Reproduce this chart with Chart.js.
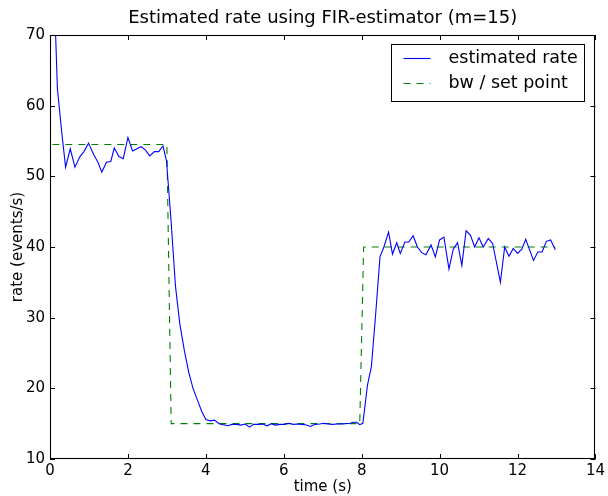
<!DOCTYPE html>
<html>
<head>
<meta charset="utf-8">
<script src="https://cdn.jsdelivr.net/npm/chart.js@4.4.1/dist/chart.umd.min.js"></script>
<style>
  html, body { margin: 0; padding: 0; background: #ffffff; }
  #wrap { width: 608px; height: 496px; }
</style>
</head>
<body>
<div id="wrap"><canvas id="c" width="608" height="496"></canvas></div>
<script>
// ---- data ----
const chartTitle = "Estimated rate using FIR-estimator (m=15)";
const xAxisLabel = "time (s)";
const yAxisLabel = "rate (events/s)";
const seriesNames = ["estimated rate", "bw / set point"];

const rateTime = [
  0.06, 0.19, 0.30, 0.40, 0.52, 0.64, 0.77, 0.87, 0.99, 1.12,
  1.23, 1.33, 1.45, 1.56, 1.65, 1.77, 1.88, 2.00, 2.12, 2.23,
  2.34, 2.45, 2.56, 2.68, 2.79, 2.90, 2.99, 3.11, 3.22, 3.33,
  3.45, 3.56, 3.67, 3.78, 3.89, 4.00, 4.11, 4.22, 4.34, 4.45,
  4.56, 4.67, 4.79, 4.90, 5.01, 5.12, 5.23, 5.35, 5.46, 5.57,
  5.68, 5.79, 5.91, 6.02, 6.13, 6.24, 6.36, 6.47, 6.58, 6.69,
  6.80, 6.92, 7.03, 7.14, 7.25, 7.37, 7.48, 7.59, 7.70, 7.79,
  7.87, 7.95, 8.03, 8.15, 8.25, 8.36, 8.47, 8.57, 8.69, 8.79,
  8.90, 8.99, 9.11, 9.21, 9.32, 9.43, 9.54, 9.65, 9.78, 9.89,
  10.00, 10.11, 10.24, 10.35, 10.46, 10.57, 10.68, 10.79, 10.90, 11.01,
  11.12, 11.25, 11.36, 11.46, 11.56, 11.67, 11.78, 11.89, 12.00, 12.11,
  12.21, 12.31, 12.41, 12.52, 12.63, 12.74, 12.85, 12.97
];
const rateValue = [
  84.0, 62.4, 56.3, 51.3, 53.9, 51.3, 52.8, 53.5, 54.7, 53.1,
  52.0, 50.6, 52.0, 52.1, 54.0, 52.8, 52.5, 55.5, 53.6, 53.9,
  54.2, 53.7, 52.9, 53.5, 53.5, 54.3, 52.2, 43.5, 34.5, 29.2,
  25.3, 22.3, 20.0, 18.4, 16.8, 15.6, 15.4, 15.5, 15.0, 14.85,
  14.7, 14.9, 14.9, 14.8, 14.95, 14.5, 14.9, 14.9, 14.95, 14.7,
  15.0, 14.8, 14.9, 14.9, 15.05, 14.9, 14.95, 14.9, 14.8, 14.6,
  14.9, 14.95, 15.05, 14.95, 14.9, 14.95, 14.95, 15.0, 15.05, 15.2,
  15.2, 14.85, 15.05, 20.5, 23.1, 30.6, 38.6, 40.0, 42.1, 39.0,
  40.6, 39.1, 40.7, 40.7, 41.6, 40.0, 39.2, 38.9, 40.3, 38.6,
  41.0, 41.4, 36.9, 39.7, 40.6, 37.4, 42.3, 41.7, 40.0, 41.3,
  40.0, 41.2, 40.5, 37.8, 35.0, 40.0, 38.7, 39.8, 39.1, 39.7,
  41.1, 39.6, 38.1, 39.3, 39.3, 40.8, 41.0, 39.6
];
const setTime  = [0.06, 3.00, 3.11, 7.95, 8.05, 12.97];
const setValue = [54.5, 54.5, 15.0, 15.0, 40.0, 40.0];

const xMin = 0, xMax = 14, xStep = 2;
const yMin = 10, yMax = 70, yStep = 10;

// ---- styles ----
const FONT = "'DejaVu Sans', 'Liberation Sans', sans-serif";
const blue = '#0000ff';
const green = '#008000';
const dashPattern = [7, 6];

const toPoints = (xs, ys) => xs.map((t, i) => ({ x: t, y: ys[i] }));

const decorPlugin = {
  id: 'decor',
  afterDatasetsDraw(chart) {
    const { ctx, chartArea: a, scales } = chart;
    const xs = scales.x, ys = scales.y;
    ctx.save();
    // inward ticks on all four sides
    const L = 5;
    ctx.strokeStyle = '#000';
    ctx.lineWidth = 1;
    ctx.beginPath();
    xs.ticks.forEach(t => {
      const px = Math.round(xs.getPixelForValue(t.value)) + 0.5;
      ctx.moveTo(px, a.bottom); ctx.lineTo(px, a.bottom - L);
      ctx.moveTo(px, a.top); ctx.lineTo(px, a.top + L);
    });
    ys.ticks.forEach(t => {
      const py = Math.round(ys.getPixelForValue(t.value)) + 0.5;
      ctx.moveTo(a.left, py); ctx.lineTo(a.left + L, py);
      ctx.moveTo(a.right, py); ctx.lineTo(a.right - L, py);
    });
    ctx.stroke();
    // frame
    ctx.lineWidth = 1.1;
    ctx.strokeRect(Math.round(a.left) + 0.5, Math.round(a.top) + 0.5,
                   Math.round(a.right - a.left) - 1, Math.round(a.bottom - a.top) - 1);

    // legend box inside the plot (upper right)
    const bw = 193, bh = 57;
    const bx = Math.round(a.right - 11 - bw) + 0.5;
    const by = Math.round(a.top + 9) + 0.5;
    ctx.fillStyle = '#ffffff';
    ctx.fillRect(bx, by, bw, bh);
    ctx.strokeStyle = '#000';
    ctx.lineWidth = 1;
    ctx.strokeRect(bx, by, bw, bh);
    const rows = [by + 14, by + 39];
    chart.data.datasets.forEach((ds, i) => {
      ctx.strokeStyle = ds.borderColor;
      ctx.lineWidth = ds.borderWidth;
      ctx.setLineDash(ds.borderDash || []);
      ctx.beginPath();
      ctx.moveTo(bx + 12, rows[i]);
      ctx.lineTo(bx + 39, rows[i]);
      ctx.stroke();
      ctx.setLineDash([]);
      ctx.fillStyle = '#000';
      ctx.font = '17.5px ' + FONT;
      ctx.textBaseline = 'middle';
      ctx.textAlign = 'left';
      ctx.fillText(ds.label, bx + 57, rows[i]);
    });

    // title centred over the plot area
    ctx.fillStyle = '#000';
    ctx.font = '18px ' + FONT;
    ctx.textAlign = 'center';
    ctx.textBaseline = 'middle';
    ctx.fillText(chartTitle, (a.left + a.right) / 2, 18);
    ctx.restore();
  }
};

new Chart(document.getElementById('c'), {
  type: 'line',
  data: {
    datasets: [
      {
        label: seriesNames[0],
        data: toPoints(rateTime, rateValue),
        borderColor: blue,
        borderWidth: 1.1,
        pointRadius: 0,
        tension: 0,
        fill: false,
        clip: 0
      },
      {
        label: seriesNames[1],
        data: toPoints(setTime, setValue),
        borderColor: green,
        borderWidth: 1.1,
        borderDash: dashPattern,
        pointRadius: 0,
        tension: 0,
        fill: false,
        clip: 0
      }
    ]
  },
  options: {
    responsive: false,
    animation: false,
    devicePixelRatio: 1,
    layout: { padding: { left: 0, right: 9, top: 35, bottom: 0 } },
    plugins: {
      legend: { display: false },
      title: { display: false },
      tooltip: { enabled: false }
    },
    scales: {
      x: {
        type: 'linear',
        min: xMin, max: xMax,
        grid: { display: false, drawTicks: false },
        border: { display: false },
        ticks: { stepSize: xStep, padding: 3, color: '#000', font: { family: FONT, size: 15 }, maxRotation: 0 },
        title: { display: true, text: xAxisLabel, color: '#000', font: { family: FONT, size: 15 }, padding: { top: 0, bottom: 0 } },
        afterFit(scale) { scale.height = 37; }
      },
      y: {
        type: 'linear',
        min: yMin, max: yMax,
        grid: { display: false, drawTicks: false },
        border: { display: false },
        ticks: { stepSize: yStep, padding: 5, color: '#000', font: { family: FONT, size: 15 } },
        title: { display: true, text: yAxisLabel, color: '#000', font: { family: FONT, size: 15 }, padding: { top: 9, bottom: 0 } },
        afterFit(scale) { scale.width = 50; }
      }
    }
  },
  plugins: [decorPlugin]
});
</script>
</body>
</html>
